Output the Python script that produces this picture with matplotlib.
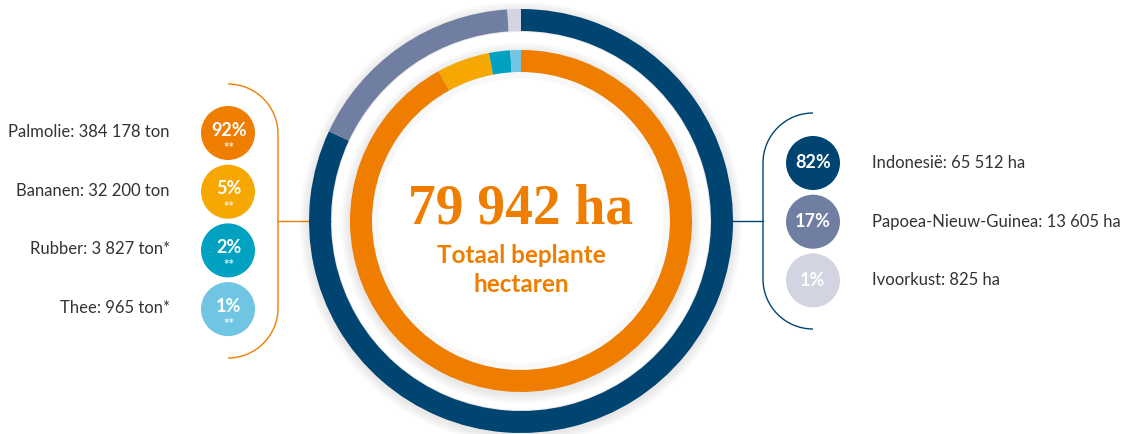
import numpy as np
import matplotlib.pyplot as plt
from matplotlib.patches import Circle, PathPatch
from matplotlib.path import Path

# data
crops = ["Palmolie", "Bananen", "Rubber", "Thee"]
crop_tons = [384178, 32200, 3827, 965]
crop_marks = ["", "", "*", "*"]
crop_share = [92, 5, 2, 1]
crop_colors = ["#EE7D00", "#F6A800", "#00A1C1", "#70C6E2"]

countries = ["Indonesië", "Papoea-Nieuw-Guinea", "Ivoorkust"]
country_ha = [65512, 13605, 825]
country_share = [82, 17, 1]
country_colors = ["#004572", "#707EA1", "#D2D4E1"]

total_label = "79 942 ha"
total_sub = "Totaal beplante\nhectaren"

W, H = 1138, 434
plt.rcParams["font.family"] = ["Lato", "DejaVu Sans"]


def fmt(v):
    return f"{v:,}".replace(",", " ")


def img(y):
    # image y (top-down) to axes y (bottom-up)
    return H - y


fig = plt.figure(figsize=(W / 100, H / 100), dpi=100)
ax = fig.add_axes([0, 0, 1, 1])

cx, cy = 521, img(221)

# horizontal connector lines (under the rings)
ax.plot([278, 360], [cy, cy], color="#EE7D00", lw=1.0, zorder=1)
ax.plot([733, 763], [cy, cy], color="#004572", lw=1.0, zorder=1)

# soft shadow behind the rings
for k in range(8):
    ax.add_patch(Circle((cx, cy - 2), 213 + k * 1.2, color="#8a7a6a",
                        alpha=0.018, lw=0, zorder=1))
ax.add_patch(Circle((cx, cy), 189, color="white", lw=0, zorder=1.5))
for k in range(8):
    ax.add_patch(Circle((cx, cy - 2), 172 + k * 1.2, color="#8a7a6a",
                        alpha=0.018, lw=0, zorder=1.6))
ax.add_patch(Circle((cx, cy), 149, color="white", lw=0, zorder=1.7))
for k in range(6):
    ax.add_patch(Circle((cx, cy), 149 - k * 1.2, fill=False, ec="#8a7a6a",
                        alpha=0.03, lw=1.2, zorder=1.8))

ax.pie(country_ha, colors=country_colors, startangle=90, counterclock=False,
       radius=212, center=(cx, cy),
       wedgeprops=dict(width=22, lw=0, zorder=2))
ax.pie(crop_share, colors=crop_colors, startangle=90, counterclock=False,
       radius=171, center=(cx, cy),
       wedgeprops=dict(width=22, lw=0, zorder=2))

# centre text
ax.text(cx, img(210), total_label, ha="center", va="center", fontsize=40,
        fontweight="bold", family="Liberation Serif", color="#EE7D00", zorder=3)
ax.text(cx, img(270), total_sub, ha="center", va="center", fontsize=17.5,
        fontweight="bold", color="#EE7D00", linespacing=1.3, zorder=3)


def bracket(x0, x1, ytop, ybot, r, color):
    # x0: open end, x1: spine
    k = 0.5523 * r
    s = 1 if x1 > x0 else -1
    verts = [(x0, ytop), (x0 + s * k, ytop), (x1, ytop - r + k), (x1, ytop - r),
             (x1, ybot + r), (x1, ybot + r - k), (x0 + s * k, ybot), (x0, ybot)]
    codes = [Path.MOVETO, Path.CURVE4, Path.CURVE4, Path.CURVE4,
             Path.LINETO, Path.CURVE4, Path.CURVE4, Path.CURVE4]
    ax.add_patch(PathPatch(Path(verts, codes), fill=False, ec=color, lw=1.0,
                           zorder=1))


bracket(228, 278, img(84), img(358), 50, "#EE7D00")
bracket(813, 763, img(113), img(329), 50, "#004572")

# left legend
for i, (name, t, m, p, c) in enumerate(zip(crops, crop_tons, crop_marks,
                                           crop_share, crop_colors)):
    y = img(133 + i * 58.7)
    ax.add_patch(Circle((228, y), 27, color=c, lw=0, zorder=3))
    ax.text(229, y + 3, f"{p}%", ha="center", va="center", fontsize=13,
            fontweight="bold", color="white", zorder=4)
    ax.text(229, y - 15, "**", ha="center", va="center", fontsize=9.5,
            fontweight="bold", color="white", alpha=0.85, zorder=4)
    ax.text(170, y + 1, f"{name}: {fmt(t)} ton{m}", ha="right", va="center",
            fontsize=12, color="#333333")

# right legend
for i, (name, ha_, p, c) in enumerate(zip(countries, country_ha,
                                          country_share, country_colors)):
    y = img(163 + i * 58.7)
    ax.add_patch(Circle((813, y), 27, color=c, lw=0, zorder=3))
    ax.text(813, y, f"{p}%", ha="center", va="center", fontsize=13,
            fontweight="bold", color="white", zorder=4)
    ax.text(872, y, f"{name}: {fmt(ha_)} ha", ha="left", va="center",
            fontsize=12, color="#333333")

ax.set_xlim(0, W)
ax.set_ylim(0, H)
ax.set_aspect("equal")
ax.axis("off")

fig.savefig("out.png", dpi=100, facecolor="white")
